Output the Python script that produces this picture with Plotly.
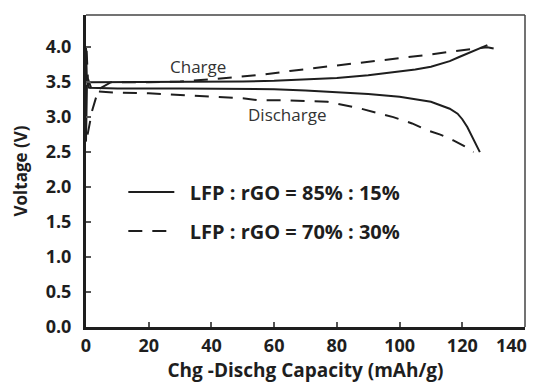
import plotly.graph_objects as go

# Charge/discharge profiles, capacity in mAh/g, voltage in V
cap_chg_85 = [0, 0.3, 1, 10, 30, 50, 60, 70, 80, 90, 100, 105, 110, 113, 116, 119, 122, 125, 128]
v_chg_85 = [2.65, 3.45, 3.50, 3.50, 3.50, 3.51, 3.52, 3.54, 3.56, 3.60, 3.65, 3.68, 3.72, 3.76, 3.80, 3.86, 3.92, 3.98, 4.03]

cap_dis_85 = [0, 0.3, 1, 10, 30, 50, 60, 70, 80, 90, 100, 105, 110, 113, 116, 118.5, 120, 121.6, 123, 124.5, 125.6]
v_dis_85 = [4.0, 3.5, 3.42, 3.41, 3.41, 3.41, 3.40, 3.38, 3.36, 3.33, 3.29, 3.26, 3.22, 3.17, 3.12, 3.05, 2.97, 2.86, 2.74, 2.60, 2.50]

cap_chg_70 = [0.5, 2, 4, 8, 20, 30, 40, 50, 57, 65, 77, 85, 93, 101, 109, 117, 123, 128, 130]
v_chg_70 = [2.75, 3.10, 3.40, 3.50, 3.50, 3.51, 3.54, 3.58, 3.61, 3.66, 3.72, 3.76, 3.80, 3.84, 3.89, 3.94, 3.97, 4.00, 3.98]

cap_dis_70 = [0.2, 0.6, 2, 10, 20, 30, 40, 50, 55, 65, 77, 87, 98, 104, 109, 113, 117, 120.5, 123.6]
v_dis_70 = [3.95, 3.55, 3.37, 3.35, 3.34, 3.32, 3.30, 3.27, 3.24, 3.24, 3.22, 3.13, 3.00, 2.91, 2.81, 2.75, 2.67, 2.59, 2.50]

x_ticks = [0, 20, 40, 60, 80, 100, 120, 140]
y_ticks = [0.0, 0.5, 1.0, 1.5, 2.0, 2.5, 3.0, 3.5, 4.0]
legend_names = ["LFP : rGO = 85% : 15%", "LFP : rGO = 70% : 30%"]

INK = "#1e1e1e"
FONT = "Open Sans"
DASH = "14px,10px"
PAD = "\u00a0\u00a0"

fig = go.Figure()

fig.add_trace(go.Scatter(x=cap_chg_85, y=v_chg_85, mode="lines", name=PAD + legend_names[0],
                         legendgroup="a", line=dict(color=INK, width=2)))
fig.add_trace(go.Scatter(x=cap_dis_85, y=v_dis_85, mode="lines", name=PAD + legend_names[0],
                         legendgroup="a", showlegend=False, line=dict(color=INK, width=2)))
fig.add_trace(go.Scatter(x=cap_chg_70, y=v_chg_70, mode="lines", name=PAD + legend_names[1],
                         legendgroup="b", line=dict(color=INK, width=2, dash=DASH)))
fig.add_trace(go.Scatter(x=cap_dis_70, y=v_dis_70, mode="lines", name=PAD + legend_names[1],
                         legendgroup="b", showlegend=False, line=dict(color=INK, width=2, dash=DASH)))

fig.add_annotation(x=35.7, y=3.73, text="Charge", showarrow=False,
                   font=dict(family=FONT, size=17, color="#333333"))
fig.add_annotation(x=64, y=3.04, text="Discharge", showarrow=False,
                   font=dict(family=FONT, size=17, color="#333333"))

# the last x tick label sits flush with the right frame instead of centred on its tick
x_ticktext = [str(v) for v in x_ticks]
fig.add_annotation(x=x_ticks[-1], xref="x", y=0, yref="paper", text=x_ticktext[-1],
                   showarrow=False, xanchor="right", yanchor="top", xshift=4, yshift=-4,
                   font=dict(family=FONT, size=18, weight="bold", color=INK))
x_ticktext[-1] = ""

# thin frame on top and right
fig.add_shape(type="line", xref="paper", yref="paper", x0=0, x1=1, y0=1, y1=1,
              line=dict(color="#444444", width=1.5))
fig.add_shape(type="line", xref="paper", yref="paper", x0=1, x1=1, y0=0, y1=1,
              line=dict(color="#444444", width=1.5))

fig.update_layout(
    width=538, height=383,
    margin=dict(l=86, r=13, t=15, b=56),
    paper_bgcolor="white", plot_bgcolor="white",
    font=dict(family=FONT, color=INK),
    showlegend=True,
    legend=dict(x=0.085, y=0.37, xanchor="left", yanchor="middle",
                bgcolor="rgba(0,0,0,0)", itemwidth=46,
                traceorder="grouped", tracegroupgap=10,
                font=dict(family=FONT, size=20, color=INK, weight="bold")),
    xaxis=dict(range=[0, 140], tickvals=x_ticks, ticktext=x_ticktext,
               automargin=False,
               showgrid=False, zeroline=False, showline=True, linecolor=INK, linewidth=3,
               ticks="inside", ticklen=5, tickcolor="#555555", tickwidth=1.5,
               tickfont=dict(family=FONT, size=18, weight="bold"),
               title=dict(text="Chg -Dischg Capacity (mAh/g)", standoff=9,
                          font=dict(family=FONT, size=19, weight="bold"))),
    yaxis=dict(range=[0, 4.46], tickvals=y_ticks, ticktext=[f"{v:.1f}" for v in y_ticks],
               automargin=False,
               showgrid=False, zeroline=False, showline=True, linecolor=INK, linewidth=3,
               ticks="inside", ticklen=5, tickcolor="#555555", tickwidth=1.5,
               ticklabelstandoff=8,
               tickfont=dict(family=FONT, size=18, weight="bold"),
               title=dict(text="Voltage (V)", standoff=14,
                          font=dict(family=FONT, size=17, weight="bold"))),
)

fig.write_html("out.html")
